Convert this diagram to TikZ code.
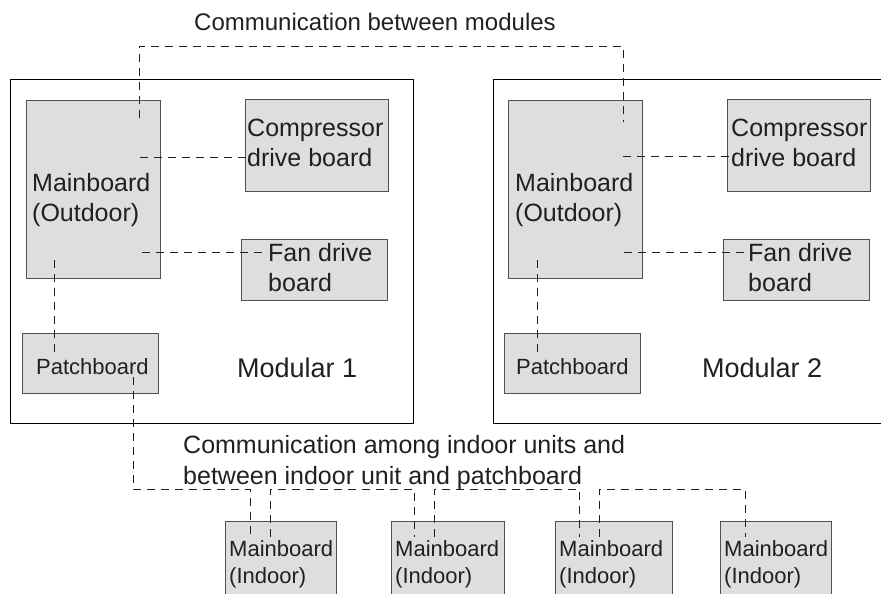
\documentclass[tikz,border=0pt]{standalone}
\usepackage{fontspec}
\setmainfont{Liberation Sans}
\usepackage{tikz}
\usetikzlibrary{positioning}
\definecolor{boardgray}{RGB}{221,222,222}
\definecolor{boardline}{RGB}{80,80,80}
\definecolor{inktext}{RGB}{35,31,32}

\begin{document}
\begin{tikzpicture}[
        x=1pt, y=-1pt,
        module/.style={draw=black, line width=1pt, minimum width=403pt, minimum height=343pt, inner sep=0pt},
        board/.style={draw=boardline, fill=boardgray, line width=0.9pt, inner sep=0pt},
        lbl/.style={align=left, inner sep=0pt, text=inktext, font=\fontsize{25}{30}\selectfont},
        smalllbl/.style={align=left, inner sep=0pt, text=inktext, font=\fontsize{22}{27}\selectfont},
        link/.style={draw=inktext, line width=0.9pt, dash pattern=on 8pt off 6pt}
    ]
    \clip (0,0) rectangle (881,594);

    \node[module] (mod1) at (211.5,251.5) {};
    \node[module, right=79pt of mod1] (mod2) {};

    \node[board, minimum width=134pt, minimum height=178pt] (mb1) at (93,189) {};
    \node[board, minimum width=143pt, minimum height=92pt] (comp1) at (316.5,145) {};
    \node[board, minimum width=146pt, minimum height=61pt] (fan1) at (314,269.5) {};
    \node[board, minimum width=136pt, minimum height=60pt] (pb1) at (90,363) {};
    \node[board, minimum width=134pt, minimum height=178pt] (mb2) at (575,189) {};
    \node[board, minimum width=143pt, minimum height=92pt] (comp2) at (798.5,145) {};
    \node[board, minimum width=146pt, minimum height=61pt] (fan2) at (796,269.5) {};
    \node[board, minimum width=136pt, minimum height=60pt] (pb2) at (572,363) {};

    \node[lbl, anchor=west] (mb1txt) at (32,200.5) {Mainboard\\(Outdoor)};
    \node[lbl, anchor=west] (comp1txt) at (247,143) {Compressor\\drive board};
    \node[lbl, anchor=west] (fan1txt) at (268,268) {Fan drive\\board};
    \node[smalllbl, anchor=west] (pb1txt) at (36,367) {Patchboard};
    \node[lbl, anchor=west, font=\fontsize{27}{32}\selectfont] (mod1txt) at (237,368) {Modular 1};
    \node[lbl, anchor=west] (mb2txt) at (515,200.5) {Mainboard\\(Outdoor)};
    \node[lbl, anchor=west] (comp2txt) at (731,143) {Compressor\\drive board};
    \node[lbl, anchor=west] (fan2txt) at (748,268) {Fan drive\\board};
    \node[smalllbl, anchor=west] (pb2txt) at (516,367) {Patchboard};
    \node[lbl, anchor=west, font=\fontsize{27}{32}\selectfont] (mod2txt) at (702,368) {Modular 2};

    \node[lbl, font=\fontsize{24}{30}\selectfont] (toptxt) at (375,22) {Communication between modules};
    \node[lbl, anchor=west, font=\fontsize{25}{31}\selectfont] (bottxt) at (183,463) {Communication among indoor units and\\between indoor unit and patchboard};

    \node[board, minimum width=111pt, minimum height=89pt] (ib1) at (280.5,565.5) {};
    \node[board, minimum width=113pt, minimum height=89pt] (ib2) at (447.5,565.5) {};
    \node[board, minimum width=117pt, minimum height=89pt] (ib3) at (613.5,565.5) {};
    \node[board, minimum width=111pt, minimum height=89pt] (ib4) at (775.5,565.5) {};
    \node[smalllbl, anchor=west] (ib1txt) at (229,564) {Mainboard\\(Indoor)};
    \node[smalllbl, anchor=west] (ib2txt) at (395,564) {Mainboard\\(Indoor)};
    \node[smalllbl, anchor=west] (ib3txt) at (559,564) {Mainboard\\(Indoor)};
    \node[smalllbl, anchor=west] (ib4txt) at (724,564) {Mainboard\\(Indoor)};

    \coordinate (mb1top) at (139,118);
    \coordinate (mb2top) at (623,122);
    \coordinate (mb1c) at (140,157);
    \coordinate (mb1f) at (142,252);
    \coordinate (mb1p) at (54,260);
    \coordinate (pb1p) at (54,352);
    \coordinate (mb2c) at (623,156);
    \coordinate (mb2f) at (624,252);
    \coordinate (mb2p) at (537,260);
    \coordinate (pb2p) at (537,352);
    \coordinate (pb1out) at (133,377);
    \coordinate (ib1in) at (250,537);
    \coordinate (ib1out) at (270,537);
    \coordinate (ib2in) at (414,537);
    \coordinate (ib2out) at (434,537);
    \coordinate (ib3in) at (579,537);
    \coordinate (ib3out) at (599,537);
    \coordinate (ib4in) at (745,537);

    \draw[link] (mb1top) -- ++(0,-72) -| (mb2top);
    \draw[link] (mb1c) -- ([xshift=3pt]mb1c -| comp1.west);
    \draw[link] (mb1f) -- (mb1f -| fan1txt.west);
    \draw[link] (mb1p) -- (pb1p);
    \draw[link] (mb2c) -- ([xshift=4pt]mb2c -| comp2.west);
    \draw[link] (mb2f) -- (mb2f -| fan2txt.west);
    \draw[link] (mb2p) -- (pb2p);
    \draw[link] (pb1out) -- ++(0,112) -| (ib1in);
    \draw[link] (ib1out) -- ++(0,-48) -| (ib2in);
    \draw[link] (ib2out) -- ++(0,-48) -| (ib3in);
    \draw[link] (ib3out) -- ++(0,-48) -| (ib4in);
\end{tikzpicture}
\end{document}
